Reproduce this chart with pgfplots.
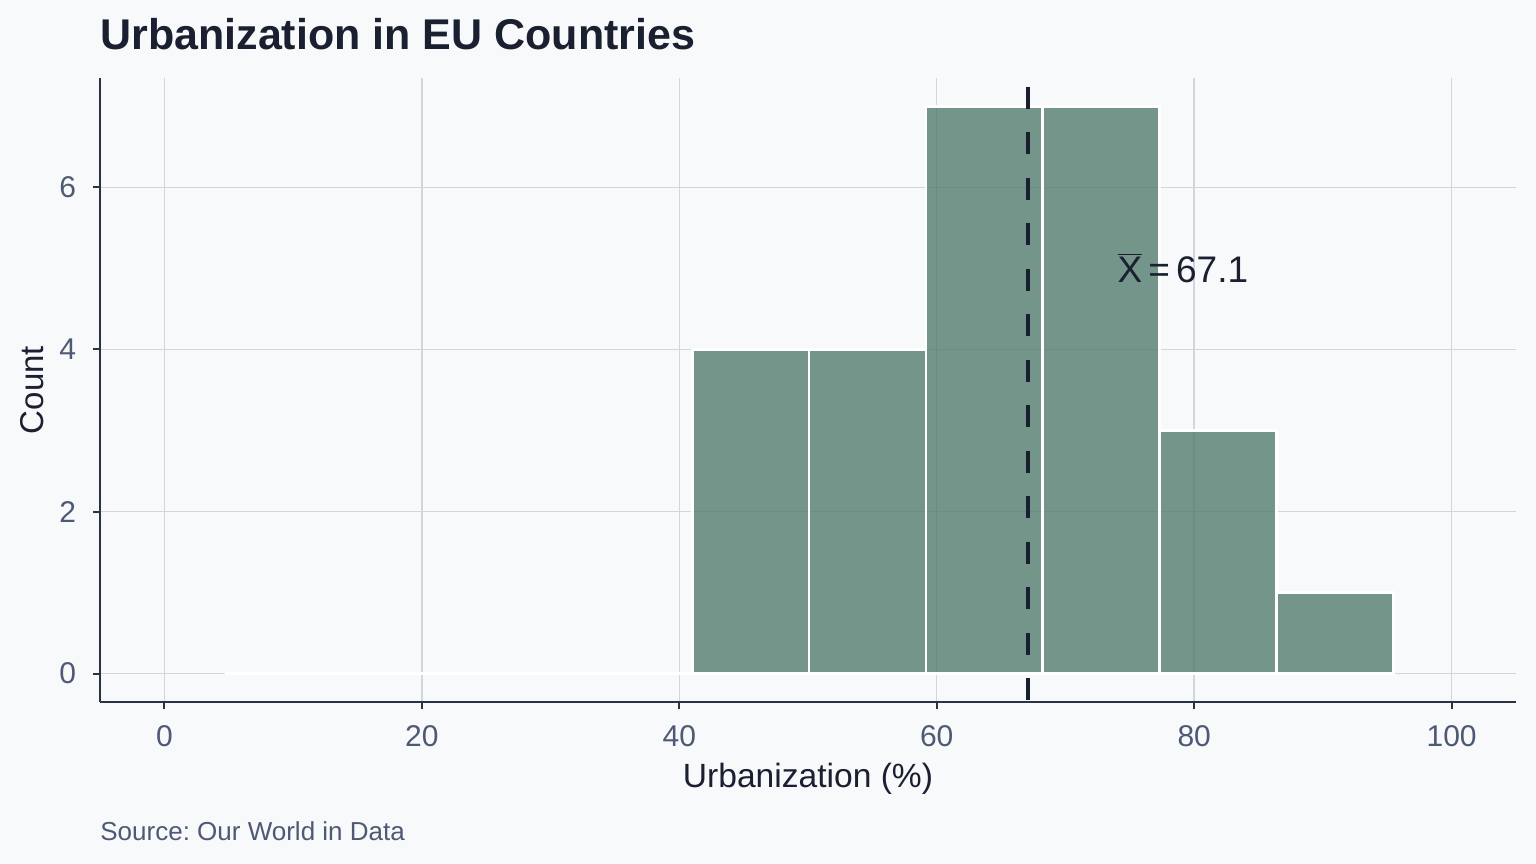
\documentclass[border=0pt]{standalone}
\usepackage{pgfplots}
\pgfplotsset{compat=1.18}
\usepackage{fontspec}
\setmainfont{Liberation Sans}
\frenchspacing
\definecolor{bg}{HTML}{F8F9FB}
\definecolor{gridc}{HTML}{D1D5DD}
\definecolor{axc}{HTML}{2A3344}
\definecolor{tickc}{HTML}{4D5A73}
\definecolor{titlec}{HTML}{1A2030}
\definecolor{barc}{HTML}{527C6E}
\definecolor{meanc}{HTML}{182030}
\begin{document}
\begin{tikzpicture}
\fill[bg] (-50bp,-81bp) rectangle (718bp,351bp);
\useasboundingbox (-50bp,-81bp) rectangle (718bp,351bp);
\begin{axis}[
  at={(0,0)}, anchor=south west,
  scale only axis, width=708bp, height=312bp,
  xmin=-5, xmax=105, ymin=-0.35, ymax=7.35,
  axis x line*=bottom, axis y line*=left,
  axis line style={-, axc, line width=1.1bp},
  xtick={0,20,40,60,80,100}, ytick={0,2,4,6},
  tick align=outside, major tick length=3.5bp,
  tick style={axc, line width=1bp},
  grid=major, major grid style={gridc, line width=0.75bp},
  tick label style={font=\fontsize{15bp}{18bp}\selectfont, text=tickc},
  xticklabel style={yshift=-5bp},
  yticklabel style={xshift=-5bp},
  /pgf/number format/assume math mode=true,
  clip=false,
]
\addplot[ybar interval, fill=barc, fill opacity=0.8, draw=white, line width=1.4bp]
  coordinates {(4.68,0) (13.76,0) (22.84,0) (31.92,0) (41.0,4) (50.08,4) (59.16,7) (68.24,7) (77.32,3) (86.40,1) (95.48,1)};
\addplot[meanc, line width=2bp, dash pattern=on 11bp off 11.75bp] coordinates {(67.1,7.24) (67.1,-0.35)};
\node[anchor=west, text=titlec, font=\fontsize{18.5bp}{22bp}\selectfont] at (axis cs:73.5,5) {$\overline{\hbox{X}}$\,=\,67.1};
\end{axis}
\node[anchor=base west, inner sep=0pt, text=titlec, font=\fontsize{21.5bp}{26bp}\selectfont\bfseries] at (0,326bp) {Urbanization in EU Countries};
\node[rotate=90, text=titlec, font=\fontsize{16.5bp}{19bp}\selectfont] at (-34bp,156bp) {Count};
\node[anchor=base, inner sep=0pt, text=titlec, font=\fontsize{16.8bp}{20bp}\selectfont] at (354bp,-42.5bp) {Urbanization (\%)};
\node[anchor=base west, inner sep=0pt, text=tickc, font=\fontsize{13bp}{15bp}\selectfont] at (0,-69bp) {Source: Our World in Data};
\end{tikzpicture}
\end{document}
